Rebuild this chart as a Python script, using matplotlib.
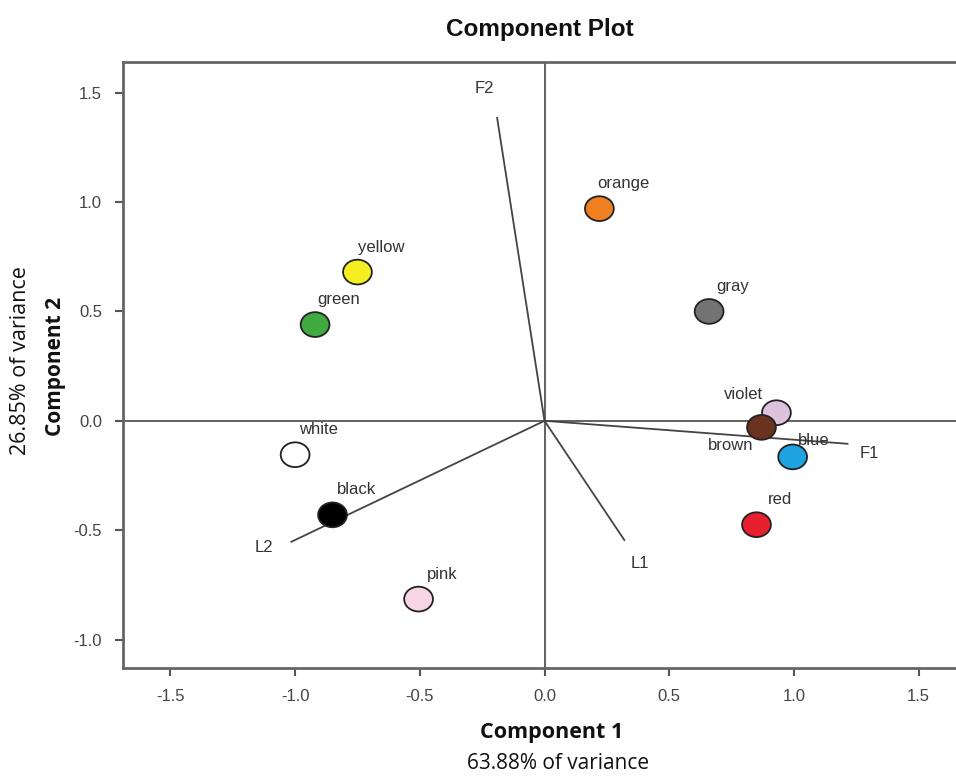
import matplotlib
matplotlib.use("Agg")
import matplotlib.pyplot as plt
from matplotlib.path import Path
from matplotlib.transforms import Affine2D

# Data
colors_names = ["orange", "gray", "yellow", "green", "white", "black", "pink",
                "violet", "brown", "blue", "red"]
comp1 = [0.22, 0.66, -0.75, -0.92, -1.00, -0.85, -0.505, 0.93, 0.87, 0.995, 0.85]
comp2 = [0.97, 0.50, 0.68, 0.44, -0.155, -0.43, -0.815, 0.037, -0.03, -0.165, -0.475]
fill_colors = ["#f07f22", "#737373", "#f7ee22", "#3faa3f", "#ffffff", "#000000",
               "#f7d5e2", "#dcc2dc", "#6b3220", "#1fa3e0", "#e8202e"]

vec_names = ["F2", "F1", "L1", "L2"]
vec_x = [-0.19, 1.215, 0.32, -1.015]
vec_y = [1.385, -0.105, -0.545, -0.553]

xticks = [-1.5, -1.0, -0.5, 0.0, 0.5, 1.0, 1.5]
yticks = [-1.0, -0.5, 0.0, 0.5, 1.0, 1.5]

plt.rcParams['font.family'] = ['Liberation Sans', 'DejaVu Sans']

fig = plt.figure(figsize=(9.56, 7.76), dpi=100)
ax = fig.add_axes([0.1287, 0.1392, 0.8713, 0.7808])
ax.set_xlim(-1.69, 1.65)
ax.set_ylim(-1.13, 1.64)

# zero lines
ax.axhline(0, color="#555555", lw=1.3, zorder=1)
ax.axvline(0, color="#555555", lw=1.3, zorder=1)

# vectors
vec_label_off = {"F2": (-9, 21), "F1": (16, -7), "L1": (11, -17), "L2": (-20, -4)}
for n, vx, vy in zip(vec_names, vec_x, vec_y):
    ax.plot([0, vx], [0, vy], color="#444444", lw=1.3, zorder=2)
    ax.annotate(n, (vx, vy), xytext=vec_label_off[n], textcoords="offset points",
                ha="center", va="center", fontsize=12, color="#333333")

# slightly elliptical markers
ellipse = Path.unit_circle().transformed(Affine2D().scale(1.0, 0.86))
ax.scatter(comp1, comp2, s=430, c=fill_colors, edgecolors="#222222",
           linewidths=1.3, marker=ellipse, zorder=3)

label_off = {"violet": (-24, 13), "brown": (-22, -13), "blue": (15, 12)}
for n, x, y in zip(colors_names, comp1, comp2):
    dx, dy = label_off.get(n, (17, 18))
    ax.annotate(n, (x, y), xytext=(dx, dy), textcoords="offset points",
                ha="center", va="center", fontsize=12, color="#333333", zorder=4)

ax.set_xticks(xticks)
ax.set_yticks(yticks)
ax.set_xticklabels([f"{t:.1f}" for t in xticks])
ax.set_yticklabels([f"{t:.1f}" for t in yticks])
ax.tick_params(direction="out", length=6, width=1.5, colors="#555555",
               labelcolor="#444444", labelsize=12, pad=9)

for s in ["top", "left", "bottom"]:
    ax.spines[s].set_color("#666666")
    ax.spines[s].set_linewidth(2.0)
ax.spines["right"].set_visible(False)

fig.text(0.565, 0.962, "Component Plot", ha="center", va="center",
         fontsize=17.5, fontweight="bold", color="#111111")
fig.text(0.577, 0.056, "Component 1", ha="center", va="center",
         fontsize=15.5, fontweight="bold", color="#111111",
         family=["Open Sans", "DejaVu Sans"])
fig.text(0.584, 0.016, "63.88% of variance", ha="center", va="center",
         fontsize=15, color="#111111", family=["Open Sans", "DejaVu Sans"])
fig.text(0.058, 0.528, "Component 2", ha="center", va="center", rotation=90,
         fontsize=15, fontweight="bold", color="#111111",
         family=["Open Sans", "DejaVu Sans"])
fig.text(0.021, 0.536, "26.85% of variance", ha="center", va="center", rotation=90,
         fontsize=15.5, color="#111111", family=["Open Sans", "DejaVu Sans"])

fig.savefig("out.png", dpi=100)
